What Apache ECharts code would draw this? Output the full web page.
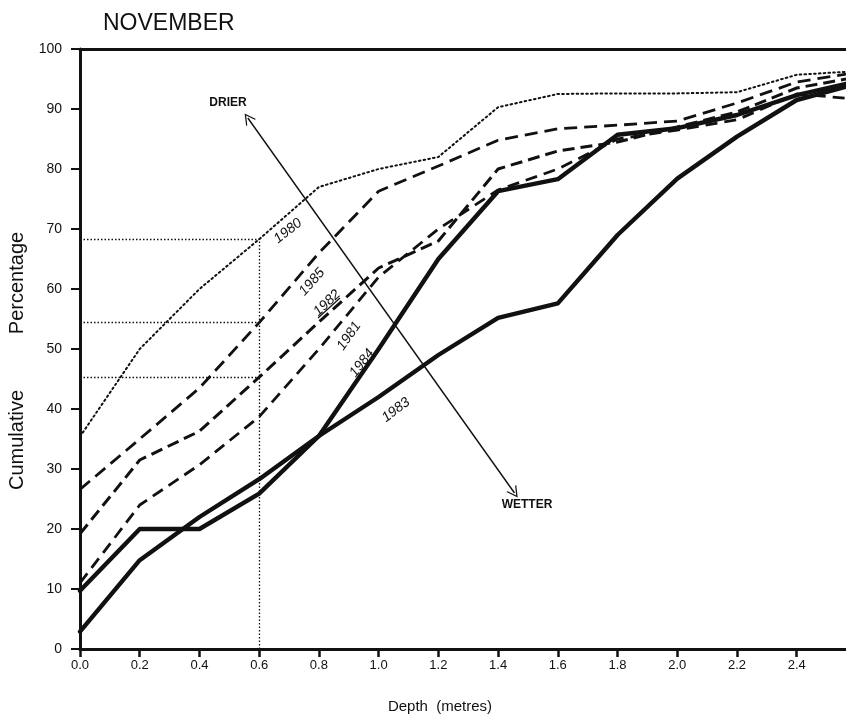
<!DOCTYPE html>
<html><head><meta charset="utf-8">
<script src="https://cdn.jsdelivr.net/npm/echarts@6/dist/echarts.min.js"></script>
<style>html,body{margin:0;padding:0;background:#fff}#c{width:846px;height:720px}</style>
</head><body><div id="c"></div>
<script>
// ---- data ----
const depths = [0.0, 0.2, 0.4, 0.6, 0.8, 1.0, 1.2, 1.4, 1.6, 1.8, 2.0, 2.2, 2.4, 2.565];
const y1980 = [35.4, 50, 60, 68.3, 77, 80, 82, 90.3, 92.5, 92.6, 92.6, 92.8, 95.7, 96.2];
const y1985 = [26.6, 35, 43.5, 54.4, 66, 76.3, 80.5, 84.8, 86.7, 87.3, 88, 91, 94.5, 95.8];
const y1982 = [19.2, 31.5, 36.3, 45.3, 54.5, 63.5, 68, 80, 83, 84.5, 87, 89.5, 93.5, 95];
const y1981 = [11, 24, 30.7, 38.7, 50, 62, 70, 76.5, 80, 85, 86.5, 88.2, 92.5, 91.8];
const y1984 = [9.7, 20, 20, 25.9, 35.5, 50, 65, 76.3, 78.3, 85.7, 86.8, 89, 92.3, 94.2];
const y1983 = [2.9, 14.8, 22, 28.3, 35.5, 42, 49, 55.2, 57.6, 69, 78.4, 85.4, 91.5, 93.7];
const years = ['1980', '1985', '1982', '1981', '1984', '1983'];
const xTickLabels = ['0.0','0.2','0.4','0.6','0.8','1.0','1.2','1.4','1.6','1.8','2.0','2.2','2.4'];
const yTickLabels = ['0','10','20','30','40','50','60','70','80','90','100'];
const refDepth = 0.6;
const arrowEnds = [[0.562, 88.5], [1.455, 26]];
const title = 'NOVEMBER';
const xName = 'Depth  (metres)';
const yNameA = 'Cumulative';
const yNameB = 'Percentage';

// ---- chart ----
const chart = echarts.init(document.getElementById('c'), null, {renderer: 'canvas'});
const pair = ys => depths.map((d, i) => [d, ys[i]]);
const ink = '#111';
const hand = '"Liberation Sans", "DejaVu Sans", sans-serif';
const refIdx = depths.indexOf(refDepth);
const chevron = 'path://M0,12 L6,0 L12,12 L10.6,12 L6,2.8 L1.4,12 Z';

function lineSeries(name, ys, style, z) {
  return {
    name, type: 'line', data: pair(ys), showSymbol: false, symbol: 'none',
    lineStyle: Object.assign({color: ink}, style), z: z || 3, silent: true, animation: false
  };
}

const series = [
  lineSeries(years[0], y1980, {width: 2, type: [1.6, 3.2], cap: 'round'}),
  lineSeries(years[1], y1985, {width: 2.8, type: [13, 7]}),
  lineSeries(years[2], y1982, {width: 3, type: [12, 6]}),
  lineSeries(years[3], y1981, {width: 2.8, type: [12, 7]}),
  lineSeries(years[4], y1984, {width: 4.4, cap: 'round', join: 'round'}),
  lineSeries(years[5], y1983, {width: 4.4, cap: 'round', join: 'round'}),
  {
    type: 'line', data: [], silent: true, animation: false,
    markLine: {
      silent: true, animation: false, symbol: 'none', label: {show: false},
      lineStyle: {color: ink, width: 1.3, type: [1.5, 2]},
      data: [
        [{coord: [0, y1980[refIdx]]}, {coord: [refDepth, y1980[refIdx]]}],
        [{coord: [0, y1985[refIdx]]}, {coord: [refDepth, y1985[refIdx]]}],
        [{coord: [0, y1982[refIdx]]}, {coord: [refDepth, y1982[refIdx]]}],
        [{coord: [refDepth, 0]}, {coord: [refDepth, y1980[refIdx]]}]
      ]
    }
  },
  {
    type: 'line', data: [], silent: true, animation: false,
    markLine: {
      silent: true, animation: false, label: {show: false},
      symbol: [chevron, chevron], symbolSize: [12, 11],
      lineStyle: {color: ink, width: 1.4, type: 'solid'},
      itemStyle: {color: ink},
      data: [[{coord: arrowEnds[0]}, {coord: arrowEnds[1]}]]
    }
  }
];

const yearLabel = (t, x, y, deg) => ({
  type: 'text', x, y, rotation: deg * Math.PI / 180, z: 10,
  style: {text: t, font: 'italic 14px ' + hand, fill: ink, align: 'center', verticalAlign: 'middle'}
});

const option = {
  backgroundColor: '#fff',
  animation: false,
  grid: {left: 80, right: 0, top: 49, bottom: 71, containLabel: false},
  xAxis: [{
    type: 'value', min: 0, max: depths[depths.length - 1], interval: 0.2,
    axisLine: {show: true, lineStyle: {color: ink, width: 3}},
    axisTick: {show: true, length: 8, lineStyle: {color: ink, width: 2.5}},
    axisLabel: {
      show: true, margin: 10, color: ink, fontSize: 13, fontFamily: hand, showMaxLabel: false,
      formatter: v => { const i = Math.round(v / 0.2); return Math.abs(v - i * 0.2) < 1e-6 ? (xTickLabels[i] || '') : ''; }
    },
    splitLine: {show: false}
  }, {
    type: 'value', position: 'top', min: 0, max: depths[depths.length - 1],
    axisLine: {show: true, onZero: false, lineStyle: {color: ink, width: 3}},
    axisTick: {show: false}, axisLabel: {show: false}, splitLine: {show: false}
  }],
  yAxis: {
    type: 'value', min: 0, max: 100, interval: 10,
    axisLine: {show: true, lineStyle: {color: ink, width: 3}},
    axisTick: {show: true, length: 9, lineStyle: {color: ink, width: 2}},
    axisLabel: {
      show: true, margin: 18, color: ink, fontSize: 14, fontFamily: hand,
      formatter: v => yTickLabels[Math.round(v / 10)]
    },
    splitLine: {show: false}
  },
  series,
  graphic: [
    {type: 'text', x: 103, y: 12, z: 10, style: {text: title, font: '23px ' + hand, fill: ink}},
    {type: 'text', x: 228, y: 103, z: 10, style: {text: 'DRIER', font: 'bold 12px ' + hand, fill: ink, align: 'center', verticalAlign: 'middle'}},
    {type: 'text', x: 527, y: 505, z: 10, style: {text: 'WETTER', font: 'bold 12px ' + hand, fill: ink, align: 'center', verticalAlign: 'middle'}},
    {type: 'text', x: 440, y: 707, z: 10, style: {text: xName, font: '15px ' + hand, fill: ink, align: 'center', verticalAlign: 'middle'}},
    {type: 'text', x: 17, y: 440, rotation: Math.PI / 2, z: 10, style: {text: yNameA, font: '20px ' + hand, fill: ink, align: 'center', verticalAlign: 'middle'}},
    {type: 'text', x: 17, y: 283, rotation: Math.PI / 2, z: 10, style: {text: yNameB, font: '20px ' + hand, fill: ink, align: 'center', verticalAlign: 'middle'}},
    yearLabel(years[0], 288, 231, 38),
    yearLabel(years[1], 312, 282, 48),
    yearLabel(years[2], 327, 303, 43),
    {type: 'line', z: 10, shape: {x1: 318, y1: 318, x2: 340, y2: 298}, style: {stroke: ink, lineWidth: 1.2}},
    yearLabel(years[3], 349, 336, 55),
    yearLabel(years[4], 362, 363, 52),
    yearLabel(years[5], 396, 410, 37)
  ]
};
chart.setOption(option);
</script>
</body></html>
